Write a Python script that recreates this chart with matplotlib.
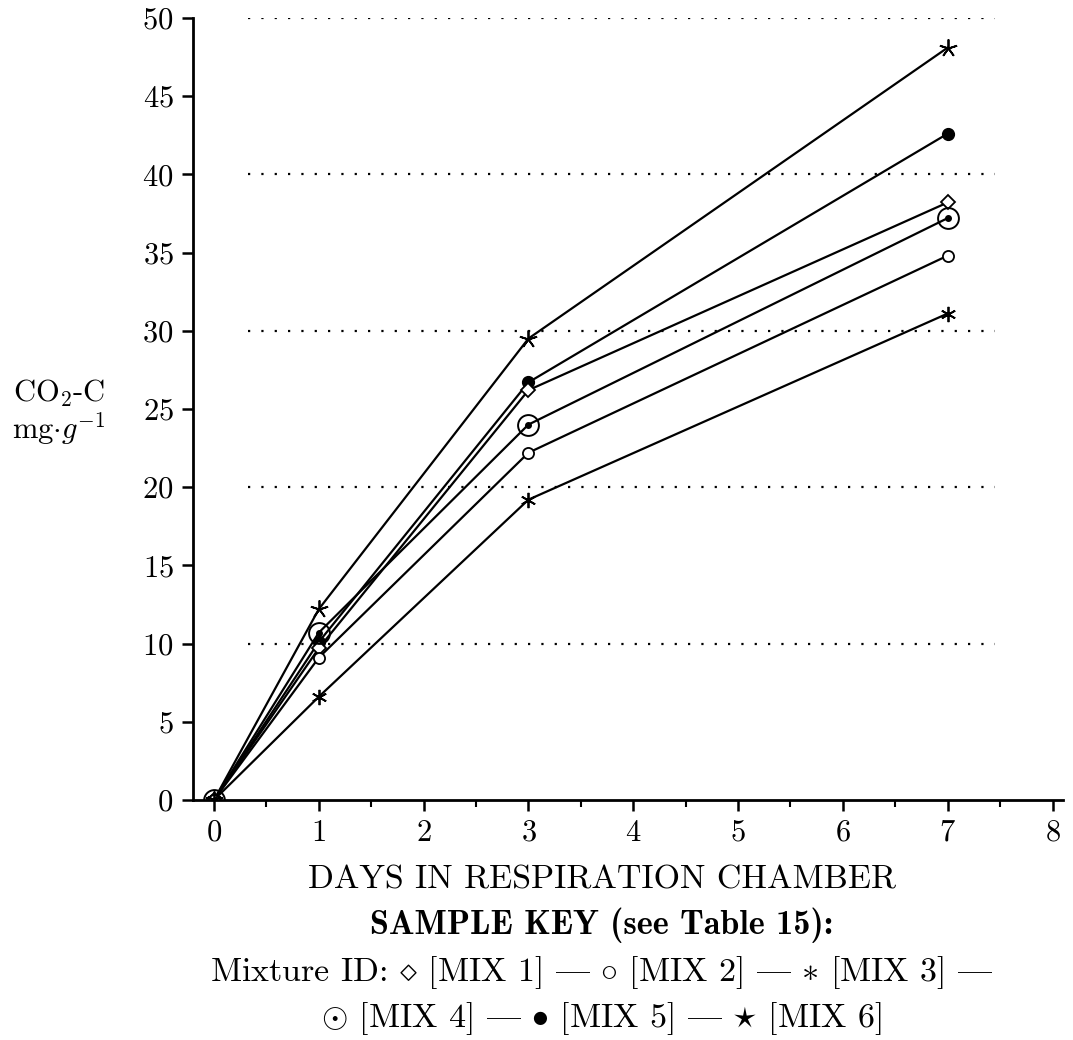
import matplotlib
matplotlib.use("Agg")
import matplotlib.pyplot as plt
from matplotlib.ticker import MultipleLocator

plt.rcParams['font.family'] = ['cmr10', 'DejaVu Serif']
plt.rcParams['mathtext.fontset'] = 'cm'
plt.rcParams['axes.unicode_minus'] = False
plt.rcParams['axes.formatter.use_mathtext'] = True

days = [0, 1, 3, 7]
mix1 = [0, 9.7, 26.2, 38.2]
mix2 = [0, 9.1, 22.2, 34.8]
mix3 = [0, 6.6, 19.2, 31.1]
mix4 = [0, 10.7, 24.0, 37.2]
mix5 = [0, 10.1, 26.7, 42.6]
mix6 = [0, 12.2, 29.5, 48.1]
grid_levels = [10, 20, 30, 40, 50]

fig = plt.figure(figsize=(10.73, 10.4), dpi=100)
ax = fig.add_axes([0.1799, 0.2308, 0.8108, 0.752])

# dotted guide lines, not full width
ax.hlines(grid_levels, 0.32, 7.45, colors='black', linestyles=(0, (1, 5)), linewidth=1.6)

lw = 1.6
ax.plot(days, mix6, color='black', lw=lw, marker=(5, 2, 0), ms=13, mew=1.3)
ax.plot(days, mix5, color='black', lw=lw, marker='o', ms=8.5, mfc='black')
ax.plot(days, mix1, color='black', lw=lw, marker='D', ms=7, mfc='white', mew=1.3)
ax.plot(days, mix4, color='black', lw=lw, marker='o', ms=15, mfc='none', mew=1.4)
ax.plot(days, mix4, color='black', lw=0, marker='o', ms=4)
ax.plot(days, mix2, color='black', lw=lw, marker='o', ms=8, mfc='white', mew=1.3)
ax.plot(days, mix3, color='black', lw=lw, marker=(6, 2, 0), ms=11, mew=1.3)

ax.set_xlim(-0.2, 8.1)
ax.set_ylim(0, 50)
ax.spines['top'].set_visible(False)
ax.spines['right'].set_visible(False)
ax.spines['left'].set_linewidth(2)
ax.spines['bottom'].set_linewidth(2)

ax.xaxis.set_major_locator(MultipleLocator(1))
ax.xaxis.set_minor_locator(MultipleLocator(0.5))
ax.yaxis.set_major_locator(MultipleLocator(5))
ax.tick_params(axis='both', which='major', direction='out', length=8, width=1.8,
               labelsize=22, pad=6)
ax.tick_params(axis='x', which='minor', direction='out', length=5, width=1.5)

fig.text(0.055, 0.622, r'CO$_2$-C', fontsize=22, ha='center', va='center')
fig.text(0.055, 0.588, r'mg$\cdot g^{-1}$', fontsize=22, ha='center', va='center')

# in cmr10 the '|' slot holds the em dash
dash = '|'
fs = 24.5
fig.text(0.561, 0.154, 'DAYS IN RESPIRATION CHAMBER', fontsize=fs, ha='center', va='center')
fig.text(0.561, 0.110, 'SAMPLE KEY (see Table 15):', fontsize=fs, ha='center', va='center',
         family=['cmb10', 'DejaVu Serif'])
fig.text(0.561, 0.065,
         r'Mixture ID: $\diamond$ [MIX 1] ' + dash + r' $\circ$ [MIX 2] ' + dash
         + r' $\ast$ [MIX 3] ' + dash,
         fontsize=fs, ha='center', va='center')
fig.text(0.561, 0.021,
         r'$\odot$ [MIX 4] ' + dash + r' $\bullet$ [MIX 5] ' + dash + r' $\star$ [MIX 6]',
         fontsize=fs, ha='center', va='center')

fig.savefig('out.png', dpi=100)
